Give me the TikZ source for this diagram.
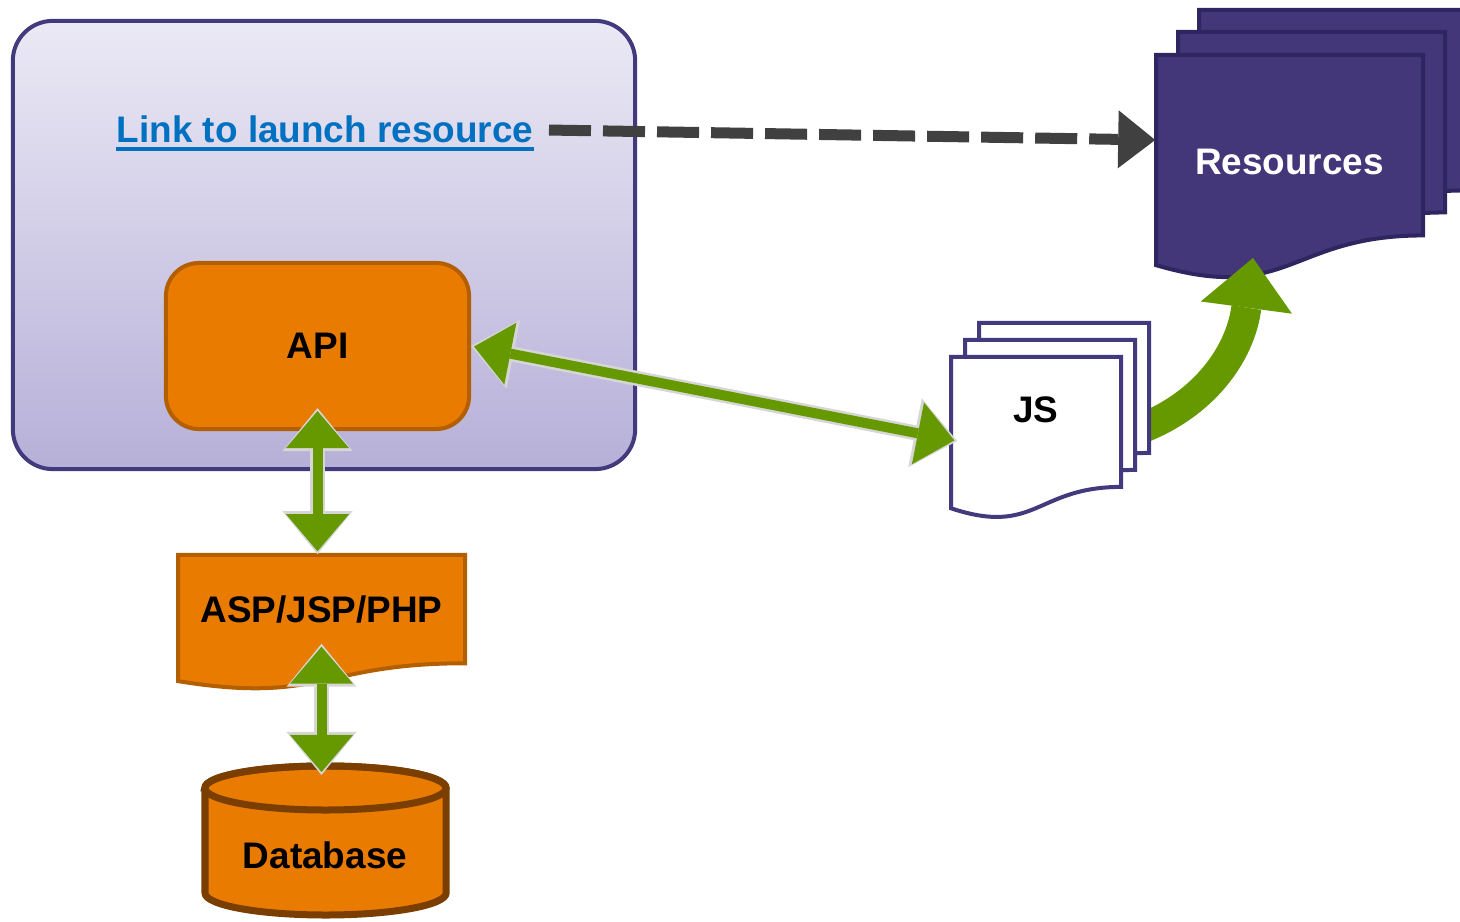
\documentclass[tikz,border=0pt]{standalone}
\usepackage{fontspec}
\setmainfont{Liberation Sans}
\usetikzlibrary{arrows.meta}
\usetikzlibrary{calc}

\definecolor{boxtop}{HTML}{EBE9F5}
\definecolor{boxbot}{HTML}{B6B0D8}
\definecolor{boxline}{HTML}{433A7E}
\definecolor{orng}{HTML}{E87B00}
\definecolor{orngline}{HTML}{B35F00}
\definecolor{dbline}{HTML}{7A3F00}
\definecolor{resfill}{HTML}{433779}
\definecolor{resline}{HTML}{2E2660}
\definecolor{grn}{HTML}{669900}
\definecolor{grnline}{HTML}{D6D6D6}
\definecolor{dashgrey}{HTML}{404040}
\definecolor{linkblue}{HTML}{0070C0}

% document shape: style, left, top, width, height
\newcommand\docshape[5]{%
\path[#1] (#2,#3) -- ({#2+#4},#3) -- ({#2+#4},{#3+0.802*#5})
  .. controls ({#2+0.5*#4},{#3+0.802*#5}) and ({#2+0.5*#4},{#3+1.1075*#5})
  .. (#2,{#3+0.934*#5}) -- cycle;}

\begin{document}
\begin{tikzpicture}[x=0.01cm, y=-0.01cm,
  lbl/.style={font=\fontsize{10.5}{12}\selectfont\bfseries},
  resdoc/.style={fill=resfill, draw=resline, line width=0.4mm},
  jsdoc/.style={fill=white, draw=boxline, line width=0.4mm},
  aspdoc/.style={fill=orng, draw=orngline, line width=0.4mm},
  gbord/.style={draw=grnline, line width=1.5mm,
    {Triangle[width=7mm,length=4.3mm,line width=0pt]}-{Triangle[width=7mm,length=4.3mm,line width=0pt]}},
  gfill/.style={draw=grn, line width=1mm, shorten <=0.3mm, shorten >=0.3mm,
    {Triangle[width=6.3mm,length=3.7mm,line width=0pt]}-{Triangle[width=6.3mm,length=3.7mm,line width=0pt]}},
  gcurve/.style={draw=grn, line width=3mm, -{Triangle[width=9.2mm,length=5mm,line width=0pt]}},
  dasharrow/.style={draw=dashgrey, line width=1.1mm, dash pattern=on 4.2mm off 1.2mm,
    shorten <=1.5mm, -{Triangle[width=5.8mm,length=3.7mm,line width=0pt]}}]

\useasboundingbox (0,0) rectangle (1460,922);
\clip (0,0) rectangle (1460,922);

\node[draw=boxline, line width=0.4mm, rounded corners=4mm, top color=boxtop, bottom color=boxbot,
  minimum width=62.2mm, minimum height=44.8mm] (app) at (324,245) {};

\node[lbl, anchor=base, inner sep=0pt, text=linkblue] (link) at (325,143) {Link to launch resource};
\draw[linkblue, line width=0.4mm] ([yshift=-0.6mm]link.base west) -- ([yshift=-0.6mm]link.base east);

\node[lbl, draw=orngline, fill=orng, line width=0.4mm, rounded corners=3.3mm,
  minimum width=30.3mm, minimum height=16.6mm] (api) at (317.5,346) {API};

%%%%%%%%%%%%
\docshape{resdoc}{1199}{10}{267}{225}
\docshape{resdoc}{1178}{32}{267}{225}
\docshape{resdoc}{1156}{55}{267}{225}
\node[lbl, text=white, minimum width=26.7mm] (res) at (1289.5,162) {Resources};
\coordinate (restip) at (1253,258);

\coordinate (jsback) at (1140,429);
\draw[gcurve] (jsback) .. controls (1203,405) and (1240,355) .. (restip);

\docshape{jsdoc}{979}{323}{170}{162}
\docshape{jsdoc}{965}{340}{170}{162}
\docshape{jsdoc}{951}{357}{170}{162}
\node[lbl, minimum width=17mm] (js) at (1036,410) {JS};

\docshape{aspdoc}{178}{555}{287}{135}
\node[lbl, minimum width=28.7mm, minimum height=10.8mm] (asp) at (321.5,609) {ASP/JSP/PHP};

%%%%%%%%%%%%
\draw[fill=orng, draw=dbline, line width=0.7mm] (205,788) -- (205,893)
  arc[start angle=180, end angle=360, x radius=12.05mm, y radius=2.2mm] -- (446,788)
  arc[start angle=0, end angle=180, x radius=12.05mm, y radius=2.2mm] -- cycle;
\draw[dbline, line width=0.7mm] (325.5,788) ellipse[x radius=12.05mm, y radius=2.2mm];
\coordinate (dbtop) at (325.5,766);
\node[lbl] (db) at (325,855) {Database};

%%%%%%%%%%%%
\draw[dasharrow] (link.east) -- ([yshift=2.2mm]res.west);

\draw[gbord] (api.east) -- ([xshift=0.7mm,yshift=-3.1mm]js.west);
\draw[gfill] (api.east) -- ([xshift=0.7mm,yshift=-3.1mm]js.west);
\draw[gbord] ([yshift=2.3mm]api.south) -- (api.south |- asp.north);
\draw[gfill] ([yshift=2.3mm]api.south) -- (api.south |- asp.north);
\draw[gbord] ([yshift=2mm]asp.south) -- ($(asp.south |- dbtop)+(0,9)$);
\draw[gfill] ([yshift=2mm]asp.south) -- ($(asp.south |- dbtop)+(0,9)$);
\end{tikzpicture}
\end{document}
